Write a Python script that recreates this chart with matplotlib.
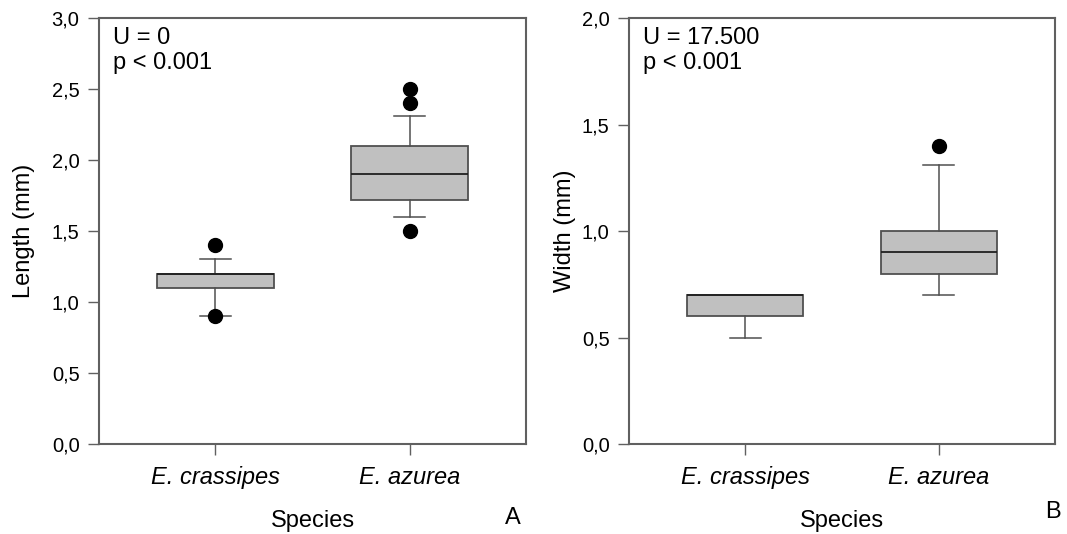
import numpy as np
import matplotlib
matplotlib.use("Agg")
import matplotlib.pyplot as plt

plt.rcParams['font.family'] = ['Liberation Sans', 'DejaVu Sans']

# species on the x axis
species = ["E. crassipes", "E. azurea"]

# panel A: length (mm), box stats
len_q1 = [1.10, 1.72]
len_med = [1.20, 1.90]
len_q3 = [1.20, 2.10]
len_whislo = [0.90, 1.60]
len_whishi = [1.30, 2.31]
len_fliers = [[1.40, 0.90], [2.50, 2.40, 1.50]]

# panel B: width (mm)
wid_q1 = [0.60, 0.80]
wid_med = [0.70, 0.90]
wid_q3 = [0.70, 1.00]
wid_whislo = [0.50, 0.70]
wid_whishi = [0.70, 1.31]
wid_fliers = [[], [1.40]]

stats_text = ["U = 0\np < 0.001", "U = 17.500\np < 0.001"]
ylabels = ["Length (mm)", "Width (mm)"]
panel_tags = ["A", "B"]
ymax = [3.0, 2.0]


def make_stats(q1, med, q3, lo, hi, fl):
    out = []
    for i in range(len(q1)):
        out.append(dict(q1=q1[i], med=med[i], q3=q3[i], whislo=lo[i],
                        whishi=hi[i], fliers=fl[i], label=species[i]))
    return out


fig = plt.figure(figsize=(10.67, 5.34), dpi=100)
ax_a = fig.add_axes([0.0928, 0.1685, 0.4002, 0.7978])
ax_b = fig.add_axes([0.5895, 0.1685, 0.3993, 0.7978])

all_stats = [
    make_stats(len_q1, len_med, len_q3, len_whislo, len_whishi, len_fliers),
    make_stats(wid_q1, wid_med, wid_q3, wid_whislo, wid_whishi, wid_fliers),
]

edge = '#505050'
ylab_x = [-0.176, -0.150]
for k, ax in enumerate([ax_a, ax_b]):
    ax.bxp(all_stats[k], positions=[1, 2], widths=0.6, capwidths=0.16,
           patch_artist=True, showfliers=True,
           boxprops=dict(facecolor='#c0c0c0', edgecolor=edge, linewidth=1.3),
           medianprops=dict(color='#202020', linewidth=1.3),
           whiskerprops=dict(color=edge, linewidth=1.1),
           capprops=dict(color=edge, linewidth=1.1),
           flierprops=dict(marker='o', markerfacecolor='black',
                           markeredgecolor='black', markersize=10))
    ax.set_xlim(0.4, 2.6)
    ax.set_ylim(0, ymax[k])
    ticks = np.arange(0, ymax[k] + 0.01, 0.5)
    ax.set_yticks(ticks)
    ax.set_yticklabels([f"{t:.1f}".replace('.', ',') for t in ticks], fontsize=14.5)
    ax.set_xticks([1, 2])
    ax.set_xticklabels(species, fontsize=17, style='italic')
    ax.tick_params(axis='both', direction='out', length=8, width=1.0,
                   color='#606060', pad=6)
    ax.tick_params(axis='x', pad=8)
    for s in ax.spines.values():
        s.set_color('#606060')
        s.set_linewidth(1.5)
    ax.set_ylabel(ylabels[k], fontsize=17, va='center')
    ax.yaxis.set_label_coords(ylab_x[k], 0.5)
    ax.set_xlabel("Species", fontsize=17, va='center')
    ax.xaxis.set_label_coords(0.5, -0.18)
    ax.text(0.033, 0.98, stats_text[k], transform=ax.transAxes, fontsize=17,
            va='top', ha='left', linespacing=1.2)

fig.text(513 / 1067, 1 - 518 / 534, panel_tags[0], fontsize=17, ha='center', va='center')
fig.text(1053 / 1067, 1 - 512 / 534, panel_tags[1], fontsize=17, ha='center', va='center')

fig.savefig("out.png", dpi=100)
